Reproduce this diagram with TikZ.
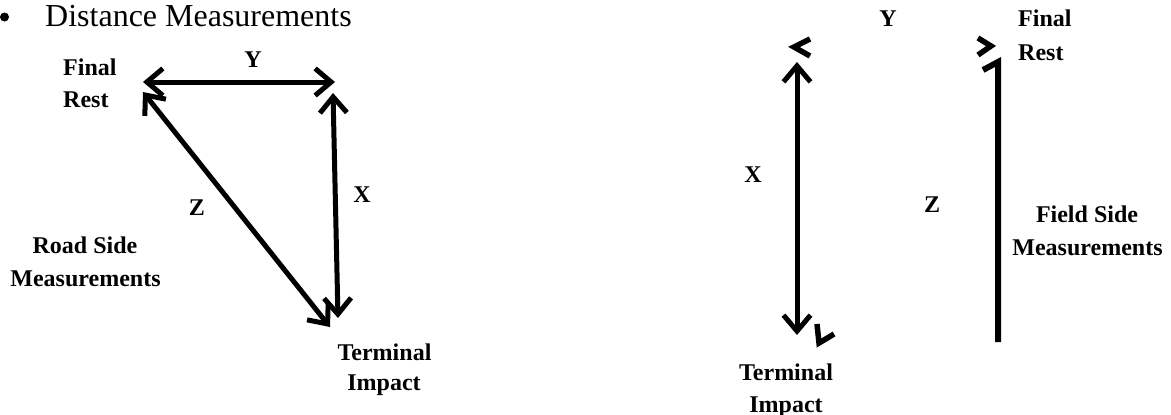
\documentclass[tikz,border=0pt]{standalone}
\usepackage{fontspec}
\setmainfont{Liberation Serif}
\usetikzlibrary{arrows.meta}
\tikzset{
  lbl/.style={font=\fontsize{24}{32}\selectfont\bfseries, inner sep=0pt, anchor=base},
  lblw/.style={lbl, anchor=base west},
  tipb/.style={Straight Barb[length=16pt,width=27pt,line width=5pt]},
  meas/.style={line width=5pt, {Straight Barb[length=16pt,width=27pt,line width=5pt]}-{Straight Barb[length=16pt,width=27pt,line width=5pt]}},
  stroke/.style={line width=5.5pt, line join=miter},
}
\begin{document}
\begin{tikzpicture}[x=1pt,y=-1pt]
\useasboundingbox (0,0) rectangle (1171,415);
% title
\node[circle, fill=black, inner sep=0pt, minimum size=9pt] (bullet) at (4.5,17) {};
\node[font=\fontsize{32}{38}\selectfont, inner sep=0pt, anchor=base west] (title) at (45,26) {Distance Measurements};
% left diagram
\coordinate (FR) at (143,82);
\coordinate (FRb) at (143,92);
\coordinate (YR) at (335,82);
\coordinate (XT) at (333,93);
\coordinate (XB) at (338,318);
\coordinate (ZB) at (330,327);
\draw[meas] (FR) -- (YR);
\draw[meas] (XT) -- (XB);
\draw[meas] (FRb) -- (ZB);
\node[lblw] (final1) at (63,75) {Final};
\node[lblw] (rest1) at (63,107) {Rest};
\node[lbl] (y1) at (253,67) {Y};
\node[lbl] (x1) at (362,202) {X};
\node[lbl] (z1) at (197,215) {Z};
\node[lbl] (road) at (85,253) {Road Side};
\node[lbl] (meas1) at (85.5,286) {Measurements};
\node[lbl] (term1) at (384.5,360) {Terminal};
\node[lbl] (imp1) at (384,390) {Impact};
% right diagram
\coordinate (XT2) at (797,62);
\coordinate (XB2) at (797,335);
\draw[meas] (XT2) -- (XB2);
\draw[stroke] (810,39) -- (794,47) -- (810,56);
\draw[stroke] (817,324) -- (819,343) -- (834,334);
\draw[stroke] (978,38) -- (991,46) -- (978,55);
\coordinate (ZT2) at (998,62);
\coordinate (ZB2) at (998,342);
\draw[line width=6pt] (983,70) -- (ZT2) -- (ZB2);
\node[lbl] (y2) at (888,27) {Y};
\node[lblw] (final2) at (1018,27) {Final};
\node[lblw] (rest2) at (1018,60) {Rest};
\node[lbl] (x2) at (753,182) {X};
\node[lbl] (z2) at (932,212) {Z};
\node[lbl] (field) at (1087,222) {Field Side};
\node[lbl] (meas2) at (1087.5,255) {Measurements};
\node[lbl] (term2) at (786,380) {Terminal};
\node[lbl] (imp2) at (786,412) {Impact};
\end{tikzpicture}
\end{document}
